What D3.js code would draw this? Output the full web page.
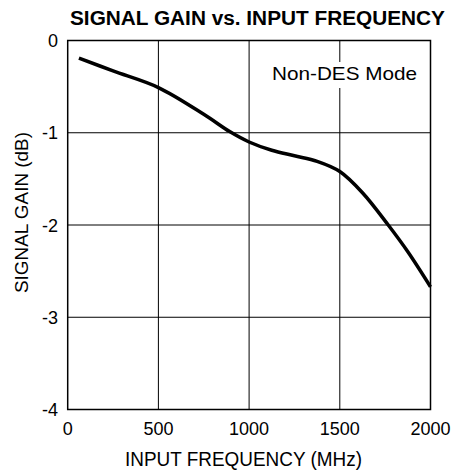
<!DOCTYPE html>
<html>
<head>
<meta charset="utf-8">
<script src="https://cdn.jsdelivr.net/npm/d3@7"></script>
<style>
  body { margin: 0; background: #fff; }
  text { font-family: "Liberation Sans", Arial, sans-serif; fill: #000; }
</style>
</head>
<body>
<svg id="chart" width="454" height="470"></svg>
<script>
// values
var freqMHz = [62, 250, 500, 750, 895, 1000, 1125, 1250, 1375, 1500, 1625, 1767, 1875, 2000];
var gainDb = [-0.19, -0.33, -0.51, -0.80, -0.99, -1.10, -1.19, -1.25, -1.31, -1.42, -1.65, -2.0, -2.29, -2.67];
var xTicks = [0, 500, 1000, 1500, 2000];
var yTicks = [0, -1, -2, -3, -4];

var svg = d3.select("#chart");
var plotLeft = 67.7, plotRight = 430.5, plotTop = 40.5, plotBottom = 409.5;

var x = d3.scaleLinear().domain([0, 2000]).range([plotLeft, plotRight]);
var y = d3.scaleLinear().domain([-4, 0]).range([plotBottom, plotTop]);

// grid
svg.append("g").selectAll("line").data(xTicks.slice(1, -1)).enter().append("line")
    .attr("x1", function (d) { return x(d); }).attr("x2", function (d) { return x(d); })
    .attr("y1", plotTop).attr("y2", plotBottom)
    .attr("stroke", "#000").attr("stroke-width", 1);
svg.append("g").selectAll("line").data(yTicks.slice(1, -1)).enter().append("line")
    .attr("x1", plotLeft).attr("x2", plotRight)
    .attr("y1", function (d) { return y(d); }).attr("y2", function (d) { return y(d); })
    .attr("stroke", "#000").attr("stroke-width", 1);

// frame
svg.append("rect")
    .attr("x", plotLeft).attr("y", plotTop)
    .attr("width", plotRight - plotLeft).attr("height", plotBottom - plotTop)
    .attr("fill", "none").attr("stroke", "#000").attr("stroke-width", 1.5);

// tick labels
svg.append("g").selectAll("text").data(xTicks).enter().append("text")
    .attr("x", function (d) { return x(d); }).attr("y", 435)
    .attr("text-anchor", "middle").style("font-size", "18px")
    .text(function (d) { return d; });
svg.append("g").selectAll("text").data(yTicks).enter().append("text")
    .attr("x", 58).attr("y", function (d) { return y(d) + 6.5; })
    .attr("text-anchor", "end").style("font-size", "18px")
    .text(function (d) { return d; });

// label box
svg.append("rect").attr("x", 268).attr("y", 62).attr("width", 154).attr("height", 26).attr("fill", "#fff");
svg.append("text").attr("x", 272).attr("y", 80).style("font-size", "18.5px")
    .attr("textLength", 145).attr("lengthAdjust", "spacingAndGlyphs").text("Non-DES Mode");

// curve
var line = d3.line()
    .x(function (d, i) { return x(freqMHz[i]); })
    .y(function (d) { return y(d); })
    .curve(d3.curveCatmullRom.alpha(0.5));
svg.append("path")
    .datum(gainDb)
    .attr("d", line)
    .attr("fill", "none").attr("stroke", "#000").attr("stroke-width", 3.5);

// titles
svg.append("text").attr("x", 70).attr("y", 25)
    .style("font-size", "19.5px").style("font-weight", "bold")
    .attr("textLength", 375).attr("lengthAdjust", "spacingAndGlyphs")
    .text("SIGNAL GAIN vs. INPUT FREQUENCY");
svg.append("text").attr("x", 125).attr("y", 466)
    .style("font-size", "19.5px")
    .attr("textLength", 237).attr("lengthAdjust", "spacingAndGlyphs")
    .text("INPUT FREQUENCY (MHz)");
svg.append("text").attr("transform", "translate(28,293) rotate(-90)")
    .style("font-size", "18.5px")
    .attr("textLength", 161).attr("lengthAdjust", "spacingAndGlyphs")
    .text("SIGNAL GAIN (dB)");
</script>
</body>
</html>
